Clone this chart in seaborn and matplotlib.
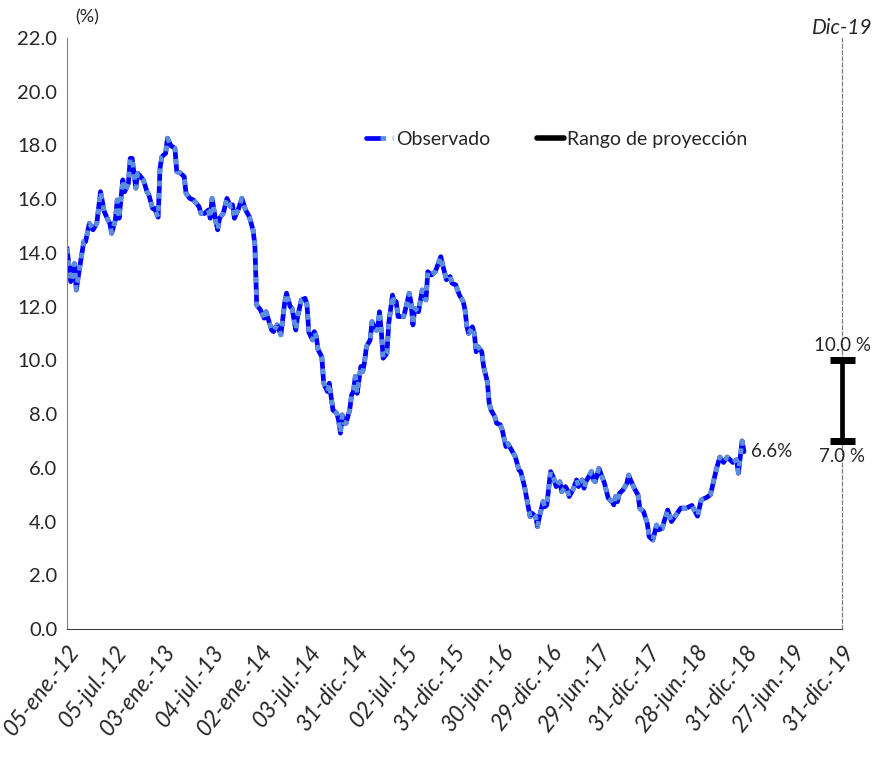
import numpy as np
import pandas as pd
import matplotlib
matplotlib.use("Agg")
import matplotlib.pyplot as plt
from matplotlib.legend_handler import HandlerTuple
import seaborn as sns

# weekly observations (week number counted from 05-ene-12) and rate in %
week = [0, 2, 4, 5, 6, 8, 9, 10, 12, 14, 16, 18, 20, 22, 23, 24, 26, 27, 28, 30,
        31, 33, 34, 35, 37, 38, 41, 43, 44, 46, 47, 49, 50, 51, 53, 54, 56, 58, 59, 61,
        63, 64, 66, 68, 71, 72, 74, 76, 77, 78, 80, 81, 82, 84, 86, 88, 89, 90, 92, 94,
        96, 98, 100, 101, 102, 104, 106, 107, 110, 111, 113, 115, 117, 118, 120, 121, 123, 124, 126, 128,
        129, 130, 132, 133, 134, 135, 137, 138, 140, 141, 142, 143, 145, 146, 147, 148, 149, 150, 152, 153,
        154, 155, 156, 158, 159, 160, 161, 163, 164, 166, 167, 168, 169, 170, 172, 173, 175, 176, 177, 178,
        180, 181, 183, 184, 185, 186, 187, 189, 191, 192, 193, 194, 196, 198, 201, 202, 204, 206, 207, 209,
        211, 213, 214, 215, 216, 218, 219, 220, 221, 223, 224, 226, 227, 228, 230, 231, 233, 234, 236, 237,
        239, 241, 243, 244, 246, 248, 249, 250, 252, 253, 254, 256, 257, 258, 260, 261, 262, 263, 265, 266,
        268, 269, 270, 272, 274, 275, 277, 278, 279, 282, 283, 284, 286, 287, 289, 291, 293, 294, 295, 296,
        297, 299, 301, 302, 303, 305, 307, 308, 310, 312, 313, 315, 317, 318, 320, 321, 323, 325, 327, 330,
        333, 336, 339, 341, 344, 346, 349, 351, 353, 355, 358, 360, 361, 363, 364]
rate = [14.18, 12.93, 13.60, 12.62, 13.10, 13.99, 14.42, 14.42, 15.10, 14.86, 15.10, 16.28, 15.54, 15.23, 15.10, 14.73, 15.23, 15.97, 15.29, 16.72,
        16.28, 16.59, 17.52, 17.52, 16.41, 16.97, 16.72, 16.28, 16.16, 15.66, 15.66, 15.33, 17.15, 17.58, 17.71, 18.27, 17.98, 17.90, 17.03, 16.97,
        16.84, 16.22, 16.03, 15.97, 15.72, 15.47, 15.47, 15.60, 15.29, 16.03, 15.17, 14.86, 15.29, 15.47, 16.03, 15.72, 15.79, 15.29, 15.60, 16.03,
        15.60, 15.35, 14.86, 14.30, 12.06, 11.88, 11.57, 11.81, 11.13, 11.07, 11.32, 10.95, 12.13, 12.50, 12.00, 11.94, 11.13, 11.63, 12.25, 12.31,
        12.10, 11.05, 10.76, 11.07, 10.89, 10.39, 10.14, 9.15, 8.84, 9.15, 8.65, 8.15, 8.03, 7.78, 7.29, 7.97, 7.66, 7.66, 8.15, 8.71,
        8.84, 9.40, 8.77, 9.77, 9.58, 9.95, 10.51, 10.76, 11.44, 11.13, 11.13, 11.81, 11.07, 10.08, 10.26, 11.38, 12.43, 12.19, 12.19, 11.63,
        11.63, 11.63, 12.19, 12.50, 12.13, 11.32, 11.94, 11.81, 12.62, 12.31, 12.25, 13.30, 13.18, 13.30, 13.86, 13.55, 13.00, 13.12, 12.87, 12.81,
        12.43, 12.19, 11.88, 11.25, 11.00, 11.25, 11.00, 10.32, 10.51, 10.32, 9.77, 9.21, 8.40, 8.15, 7.90, 7.66, 7.60, 7.41, 6.79, 6.91,
        6.66, 6.42, 5.92, 5.86, 5.30, 4.55, 4.18, 4.31, 4.18, 3.81, 4.18, 4.74, 4.55, 4.62, 5.86, 5.73, 5.55, 5.30, 5.48, 5.11,
        5.30, 5.18, 4.93, 5.18, 5.55, 5.30, 5.55, 5.24, 5.48, 5.86, 5.55, 5.48, 5.98, 5.80, 5.42, 4.87, 4.74, 4.62, 4.93, 4.74,
        5.05, 5.18, 5.42, 5.73, 5.55, 5.24, 4.99, 4.49, 4.37, 3.93, 3.44, 3.31, 3.87, 3.69, 3.74, 3.99, 4.43, 4.00, 4.20, 4.50,
        4.50, 4.60, 4.20, 4.80, 4.90, 5.00, 5.90, 6.40, 6.20, 6.40, 6.20, 6.30, 5.80, 7.00, 6.60]

tick_dates = ["2012-01-05", "2012-07-05", "2013-01-03", "2013-07-04", "2014-01-02", "2014-07-03",
              "2014-12-31", "2015-07-02", "2015-12-31", "2016-06-30", "2016-12-29", "2017-06-29",
              "2017-12-31", "2018-06-28", "2018-12-31", "2019-06-27", "2019-12-31"]
tick_labels = ["05-ene.-12", "05-jul.-12", "03-ene.-13", "04-jul.-13", "02-ene.-14", "03-jul.-14",
               "31-dic.-14", "02-jul.-15", "31-dic.-15", "30-jun.-16", "29-dic.-16", "29-jun.-17",
               "31-dic.-17", "28-jun.-18", "31-dic.-18", "27-jun.-19", "31-dic.-19"]

proj_date = "2019-12-31"
proj_low, proj_high = 7.0, 10.0

sns.set_style("white")
plt.rcParams["font.family"] = ["Lato", "DejaVu Sans"]

df = pd.DataFrame({
    "fecha": pd.Timestamp("2012-01-05") + pd.to_timedelta(np.array(week) * 7, unit="D"),
    "tasa": rate,
})

fig = plt.figure(figsize=(8.75, 7.65), dpi=100, facecolor="white")
ax = fig.add_axes([0.0766, 0.1778, 0.8857, 0.7725])

sns.lineplot(data=df, x="fecha", y="tasa", ax=ax, color="#0000ff", linewidth=3.4)
sns.lineplot(data=df, x="fecha", y="tasa", ax=ax, color="#5b8ee0", linewidth=3.4)
obs_lines = ax.get_lines()
obs_lines[1].set_dashes([1.2, 1.4])

px = pd.Timestamp(proj_date)
bar = ax.errorbar([px], [(proj_low + proj_high) / 2], yerr=[(proj_high - proj_low) / 2],
                  fmt="none", ecolor="black", elinewidth=3.4, capsize=9, capthick=5, zorder=5)
for art in bar.lines[1] + bar.lines[2]:
    art.set_clip_on(False)

ax.text(px, proj_high + 0.25, "10.0 %", ha="center", va="bottom", fontsize=13.5)
ax.text(px, proj_low - 0.25, "7.0 %", ha="center", va="top", fontsize=13.5)
ax.text(df["fecha"].iloc[-1] + pd.Timedelta(days=25), rate[-1], "6.6%",
        ha="left", va="center", fontsize=13.5)

ax.set_xlim(pd.Timestamp(tick_dates[0]), pd.Timestamp(tick_dates[-1]))
ax.set_ylim(0, 22)
ax.set_yticks(np.arange(0, 22.1, 2))
ax.set_yticklabels([f"{v:.1f}" for v in np.arange(0, 22.1, 2)], fontsize=14.5)
ax.set_xticks(pd.to_datetime(tick_dates))
ax.set_xticklabels(tick_labels, rotation=52, ha="right", rotation_mode="anchor",
                   fontsize=16.5, style="italic")
ax.tick_params(axis="both", length=0, pad=7)
ax.tick_params(axis="x", pad=9)
ax.set_xlabel("")
ax.set_ylabel("")

ax.spines["top"].set_visible(False)
ax.spines["left"].set_color("#808080")
ax.spines["bottom"].set_color("#404040")
ax.spines["right"].set_color("#808080")
ax.spines["right"].set_linestyle((0, (3, 2)))
ax.spines["right"].set_linewidth(0.9)

ax.text(0.01, 1.035, "(%)", transform=ax.transAxes, ha="left", va="center", fontsize=13)
ax.text(1.0, 1.017, "Dic-19", transform=ax.transAxes, ha="center", va="center",
        fontsize=15, style="italic")

leg_obs = (obs_lines[0], obs_lines[1])
leg_rng = plt.Line2D([], [], color="black", linewidth=4)
ax.legend([leg_obs, leg_rng], ["Observado", "Rango de proyección"],
          handler_map={tuple: HandlerTuple(ndivide=None, pad=0)},
          loc="center", bbox_to_anchor=(0.632, 0.828), ncol=2, frameon=False,
          fontsize=14, handlelength=1.4, handletextpad=0.15, columnspacing=2.4)

fig.savefig("out.png", dpi=100, facecolor="white")
